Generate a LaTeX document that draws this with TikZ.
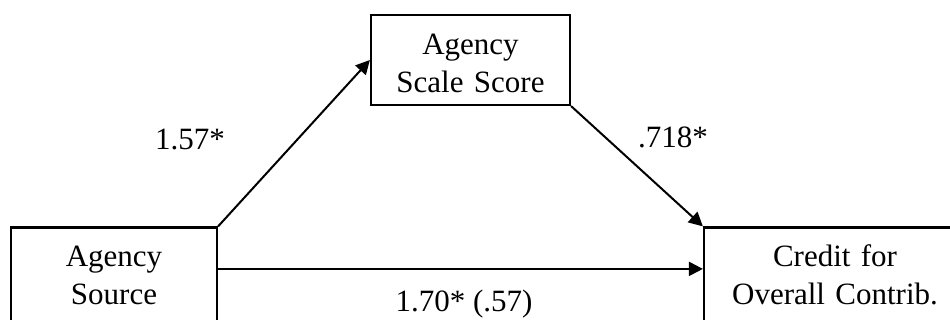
\documentclass[tikz,border=0pt]{standalone}
\usepackage{fontspec}
\setmainfont{Liberation Serif}
\usetikzlibrary{arrows.meta}
\begin{document}
\begin{tikzpicture}[x=1pt,y=1pt,
  box/.style={draw, line width=2.2pt, inner sep=0pt, align=center, anchor=base, font=\fontsize{31}{38}\selectfont},
  lbl/.style={inner sep=0pt, anchor=base, font=\fontsize{31}{38}\selectfont},
  arr/.style={line width=2pt, -{Triangle[length=14pt,width=14pt]}}]
\useasboundingbox (0,0) rectangle (950,320);
\clip (0,0) rectangle (950,320);
\node[box, text width=206pt, text height=39.5pt, text depth=73pt] (L) at (114,53) {Agency\\Source};
\node[box, text width=199pt, text height=40pt, text depth=50pt] (T) at (470.5,265) {Agency\\Scale Score};
\node[box, text width=262pt, text height=39.5pt, text depth=73pt] (R) at (835,53) {Credit for\\Overall Contrib.};
\draw[arr] (L.north east) -- (T.west);
\draw[arr] (T.south east) -- (R.north west);
\draw[arr] ([yshift=-42.5pt]L.north east) -- ([yshift=-42.5pt]R.north west);
\node[lbl] (a) at (190,170) {1.57*};
\node[lbl] (b) at (673,172) {.718*};
\node[lbl] (c) at (464,8) {1.70* (.57)};
\end{tikzpicture}
\end{document}
